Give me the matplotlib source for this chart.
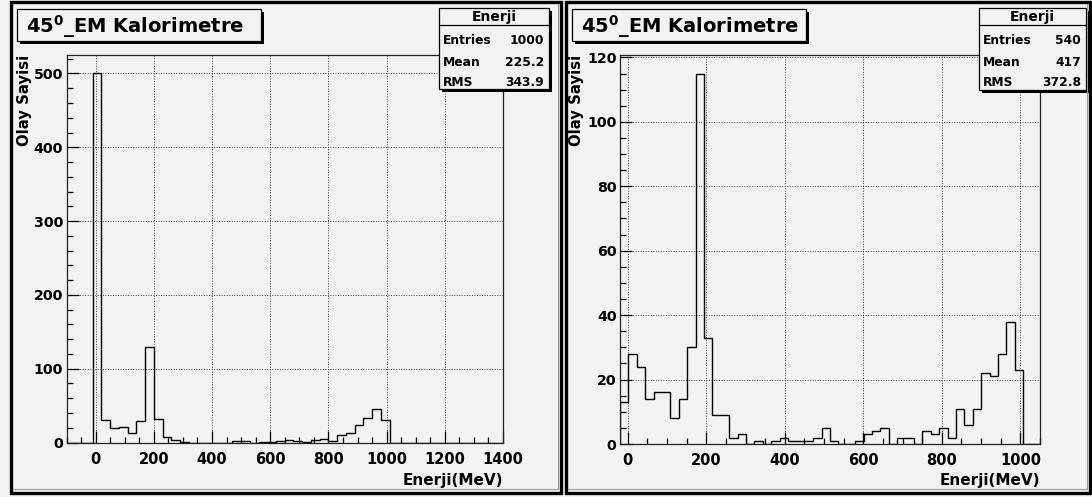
import numpy as np
import matplotlib
matplotlib.use('Agg')
import matplotlib.pyplot as plt
from matplotlib.patches import Rectangle
from matplotlib.lines import Line2D
from matplotlib.ticker import MultipleLocator

plt.rcParams['font.family'] = ['DejaVu Sans']
plt.rcParams['font.weight'] = 'bold'
plt.rcParams['mathtext.fontset'] = 'dejavusans'

# ---------------- data ----------------
title_text = r"$\mathbf{45^{0}}$_EM Kalorimetre"
x_title = "Enerji(MeV)"
y_title = "Olay Sayisi"
stats_name = "Enerji"

left_range = (-100, 1400)
left_nbins = 50
left_counts = [0, 0, 0, 500, 30, 19, 21, 13, 29, 129, 32, 8, 3, 1, 0, 0, 0, 0, 0,
               2, 2, 0, 1, 1, 2, 4, 2, 1, 3, 5, 2, 10, 13, 24, 33, 46, 31,
               0, 0, 0, 0, 0, 0, 0, 0, 0, 0, 0, 0, 0]
left_stats = [("Entries", "1000"), ("Mean", "225.2"), ("RMS", "343.9")]

right_range = (-20, 1050)
right_nbins = 50
right_counts = [13, 28, 24, 14, 16, 16, 8, 14, 30, 115, 33, 9, 9, 2, 3, 0, 1, 0, 1, 2,
                1, 1, 1, 2, 5, 1, 0, 0, 1, 3, 4, 5, 0, 2, 2, 0, 4, 3, 5, 2,
                11, 6, 11, 22, 21, 28, 38, 23, 0, 0]
right_stats = [("Entries", "540"), ("Mean", "417"), ("RMS", "372.8")]

# ---------------- layout ----------------
W, H, DPI = 1092, 497, 100
BG = '#f2f2f2'
fig = plt.figure(figsize=(W / DPI, H / DPI), dpi=DPI, facecolor=BG)


def fx(x):
    return x / W


def fy(y):
    return 1 - y / H


def rect(x0, y0, x1, y1, **kw):
    r = Rectangle((fx(x0), fy(y1)), (x1 - x0) / W, (y1 - y0) / H,
                  transform=fig.transFigure, **kw)
    fig.add_artist(r)
    return r


def shadow_box(x0, y0, x1, y1, z=5):
    rect(x0 + 3, y0 + 3, x1 + 3, y1 + 3, facecolor='black', edgecolor='black',
         lw=0, zorder=z)
    rect(x0, y0, x1, y1, facecolor=BG, edgecolor='black', lw=0.9, zorder=z + 0.1)


def draw_pad(px0, px1, ax_box, xr, nb, counts, xmaj, xmin_, ymaj, ymin_, ymax,
             title_box, stats_box, stats, ylab_x):
    # pad border
    rect(px0 + 1.5, 1.5, px1 - 1.5, 492.5, facecolor='none', edgecolor='black',
         lw=2.4, zorder=10)
    fig.add_artist(Line2D([fx(px0 + 4), fx(px1 - 4), fx(px1 - 4)],
                          [fy(489), fy(489), fy(4)], transform=fig.transFigure,
                          color='#9a9a9a', lw=0.8, zorder=10))

    x0, y0, x1, y1 = ax_box
    ax = fig.add_axes([fx(x0), fy(y1), (x1 - x0) / W, (y1 - y0) / H])
    ax.set_facecolor(BG)
    edges = np.linspace(xr[0], xr[1], nb + 1)
    ax.stairs(counts, edges, color='black', lw=1.0, baseline=0, zorder=2)
    ax.set_xlim(xr)
    ax.set_ylim(0, ymax)
    ax.xaxis.set_major_locator(MultipleLocator(xmaj))
    ax.xaxis.set_minor_locator(MultipleLocator(xmin_))
    ax.yaxis.set_major_locator(MultipleLocator(ymaj))
    ax.yaxis.set_minor_locator(MultipleLocator(ymin_))
    ax.set_axisbelow(True)
    ax.grid(True, which='major', linestyle=(0, (1, 1.6)), color='#444444', lw=0.7)
    ax.tick_params(which='both', direction='in', top=False, right=False,
                   color='black', width=0.9)
    ax.tick_params(which='major', length=8.6)
    ax.tick_params(which='minor', length=4.6)
    ax.tick_params(axis='x', which='major', labelsize=10.5, pad=6.5)
    ax.tick_params(axis='y', which='major', labelsize=10.2, pad=2.5)
    for lab in ax.get_xticklabels() + ax.get_yticklabels():
        lab.set_fontweight('bold')
    for sp in ax.spines.values():
        sp.set_color('#222222')
        sp.set_linewidth(0.9)

    # axis titles
    fig.text(fx(x1), fy(484.5), x_title, ha='right', va='baseline',
             fontsize=11, fontweight='bold')
    fig.text(fx(ylab_x), fy(y0), y_title, rotation=90, ha='center', va='top',
             fontsize=10.7, fontweight='bold')

    # title box
    tx0, ty0, tx1, ty1 = title_box
    shadow_box(tx0, ty0, tx1, ty1)
    fig.text(fx(tx0 + 9), fy(33), title_text, ha='left', va='baseline',
             fontsize=14, fontweight='bold', zorder=12)

    # stats box
    sx0, sy0, sx1, sy1 = stats_box
    shadow_box(sx0, sy0, sx1, sy1)
    fig.add_artist(Line2D([fx(sx0), fx(sx1)], [fy(25), fy(25)],
                          transform=fig.transFigure, color='black', lw=0.9,
                          zorder=12))
    fig.text(fx((sx0 + sx1) / 2), fy(16.5), stats_name, ha='center',
             va='center', fontsize=10, fontweight='bold', zorder=12)
    for i, (k, v) in enumerate(stats):
        yy = 41 + 21 * i
        fig.text(fx(sx0 + 4), fy(yy), k, ha='left', va='center',
                 fontsize=8.8, fontweight='bold', zorder=12)
        fig.text(fx(sx1 - 5), fy(yy), v, ha='right', va='center',
                 fontsize=8.8, fontweight='bold', zorder=12)
    return ax


draw_pad(9, 562, (66.5, 55, 503, 442.5), left_range, left_nbins, left_counts,
         200, 50, 100, 20, 525,
         (17, 9, 261, 41), (439, 8, 549, 89), left_stats, 25)

draw_pad(564, 1091, (620, 55, 1040, 444), right_range, right_nbins, right_counts,
         200, 50, 20, 5, 120.75,
         (572, 9, 806, 41), (979, 8, 1086, 90), right_stats, 576)

fig.savefig('out.png', dpi=DPI, facecolor=BG)
